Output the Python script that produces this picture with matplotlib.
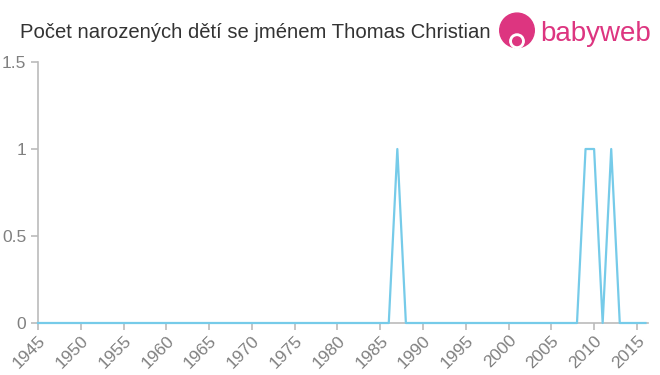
import matplotlib.pyplot as plt
import numpy as np
from matplotlib.patches import Circle

plt.rcParams['font.family'] = ['Liberation Sans', 'DejaVu Sans']

# data: births per year, zero except a few years
years = list(range(1945, 2017))
ones_years = [1987, 2009, 2010, 2012]
counts = [1 if y in ones_years else 0 for y in years]

x_ticks = list(range(1945, 2016, 5))
y_ticks = [0, 0.5, 1, 1.5]
y_labels = ["0", "0.5", "1", "1.5"]

fig = plt.figure(figsize=(6.6, 3.75), dpi=100)
ax = fig.add_axes([38 / 660, 1 - 323 / 375, (648 - 38) / 660, (323 - 62) / 375])

ax.plot(years, counts, color="#76cbe9", linewidth=1.6, clip_on=False, zorder=3)

ax.set_xlim(1945, 2016.3)
ax.set_ylim(0, 1.5)
ax.set_xticks(x_ticks)
ax.set_xticklabels([str(t) for t in x_ticks], rotation=45, ha="right", rotation_mode="anchor")
ax.set_yticks(y_ticks)
ax.set_yticklabels(y_labels)

for side in ["top", "right"]:
    ax.spines[side].set_visible(False)
for side in ["left", "bottom"]:
    ax.spines[side].set_color("#bbbbbb")
    ax.spines[side].set_linewidth(1.2)
ax.tick_params(axis="both", colors="#bbbbbb", length=5, width=1.2, labelcolor="#808080", labelsize=12.5)
ax.tick_params(axis="x", pad=2)

fig.text(20 / 660, 1 - 33 / 375, "Počet narozených dětí se jménem Thomas Christian",
         fontsize=14.6, color="#333333", va="center", ha="left")

# logo
pink = "#dd3580"
lax = fig.add_axes([499 / 660, 1 - 52 / 375, 36 / 660, 40 / 375])
lax.set_xlim(0, 1)
lax.set_ylim(0, 1.11)
lax.set_aspect("equal")
lax.axis("off")
lax.add_patch(Circle((0.5, 0.6), 0.48, color=pink))
lax.add_patch(Circle((0.5, 0.3), 0.2, color="white"))
lax.add_patch(Circle((0.5, 0.3), 0.12, color=pink))
fig.text(540 / 660, 1 - 34 / 375, "babyweb", fontsize=20, color=pink, va="center", ha="left")

fig.savefig("out.png", dpi=100)
